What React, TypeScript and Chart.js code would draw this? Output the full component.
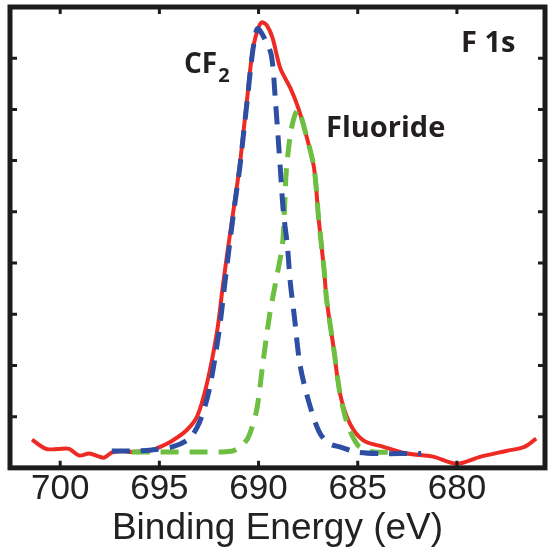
import React, { useEffect, useRef } from "react";
import { Chart, registerables } from "chart.js";

Chart.register(...registerables);

// F 1s spectrum: measured envelope (binding energy eV, intensity a.u.)
const envelopeEnergy = [
  701.42, 700.71, 700.1, 699.55, 699.04, 698.54, 698.03, 697.78, 697.38, 696.87,
  696.37, 695.36, 694.9, 694.35, 693.64, 693.1, 692.6, 692.1, 691.8, 691.5,
  691.2, 690.95, 690.75, 690.55, 690.4, 690.25, 690.05, 689.85, 689.6,
  689.3, 688.9, 688.4, 688.0, 687.6, 687.2, 686.97, 686.7, 686.57, 686.2,
  685.9, 685.4, 684.7, 683.7, 682.5, 681.2, 680.0, 678.8, 677.5, 676.6, 676.0,
];
const envelopeIntensity = [
  0.55, 0.37, 0.37, 0.37, 0.24, 0.28, 0.22, 0.2, 0.3, 0.33,
  0.31, 0.35, 0.42, 0.53, 0.73, 1.0, 1.65, 2.64, 3.55, 4.4,
  5.2, 5.9, 6.6, 7.3, 7.85, 8.25, 8.55, 8.7, 8.65,
  8.4, 7.8, 7.42, 7.03, 6.5, 5.85, 4.86, 3.88, 3.29, 2.3,
  1.46, 0.87, 0.53, 0.41, 0.28, 0.22, 0.08, 0.22, 0.33, 0.41, 0.57,
];

// CF2 component
const cf2Energy = [
  697.4, 696.4, 695.4, 694.35, 693.5, 693.0, 692.5, 692.0, 691.7, 691.45,
  691.2, 690.95, 690.75, 690.55, 690.4, 690.25, 690.05, 689.65, 689.35, 689.15,
  688.9, 688.75, 688.55, 688.4, 688.2, 687.9, 687.4, 686.9, 686.4, 685.9,
  685.05, 683.85, 681.8,
];
const cf2Intensity = [
  0.33, 0.33, 0.35, 0.41, 0.57, 0.87, 1.5, 2.64, 3.6, 4.4,
  5.15, 5.85, 6.55, 7.25, 7.8, 8.25, 8.58, 8.35, 8.05, 7.17,
  5.83, 5.0, 4.35, 3.62, 2.97, 1.99, 1.2, 0.67, 0.47, 0.41,
  0.31, 0.28, 0.28,
];

// Fluoride component
const fluorideEnergy = [
  696.4, 695.0, 693.0, 692.0, 691.3, 690.8, 690.5, 690.1, 689.8, 689.45,
  689.15, 688.8, 688.7, 688.6, 688.4, 688.2, 688.0, 687.6, 687.2, 686.97,
  686.7, 686.57, 686.2, 685.9, 685.6, 685.4, 685.1, 684.9, 684.2, 683.2,
];
const fluorideIntensity = [
  0.31, 0.31, 0.31, 0.31, 0.33, 0.45, 0.61, 1.12, 1.99, 2.97,
  3.6, 4.35, 5.0, 5.8, 6.5, 6.85, 7.0, 6.5, 5.85, 4.86,
  3.88, 3.29, 2.3, 1.46, 0.95, 0.73, 0.5, 0.41, 0.31, 0.31,
];

const xTicks = [700, 695, 690, 685, 680];
const yTicks = [1, 2, 3, 4, 5, 6, 7, 8];

const pairs = (xs: number[], ys: number[]) => xs.map((x, i) => ({ x, y: ys[i] }));

const INK = "#1c1c1c";

const framePlugin = {
  id: "frame",
  afterDatasetsDraw(chart: any) {
    const { ctx, chartArea: a, scales } = chart;
    const xs = scales.x;
    const ys = scales.y;
    ctx.save();
    ctx.strokeStyle = INK;
    ctx.lineWidth = 3;
    ctx.beginPath();
    for (const v of xTicks) {
      const px = xs.getPixelForValue(v);
      ctx.moveTo(px, a.bottom);
      ctx.lineTo(px, a.bottom - 7);
      ctx.moveTo(px, a.top);
      ctx.lineTo(px, a.top + 7);
    }
    for (const v of yTicks) {
      const py = ys.getPixelForValue(v);
      ctx.moveTo(a.left, py);
      ctx.lineTo(a.left + 7, py);
      ctx.moveTo(a.right, py);
      ctx.lineTo(a.right - 7, py);
    }
    ctx.stroke();
    ctx.lineWidth = 5;
    ctx.strokeRect(a.left, a.top, a.right - a.left, a.bottom - a.top);

    // peak labels
    ctx.fillStyle = "#231f20";
    ctx.textBaseline = "alphabetic";
    ctx.textAlign = "left";
    ctx.font = "bold 28px 'Open Sans'";
    ctx.fillText("CF", 184, 73);
    const cfw = ctx.measureText("CF").width;
    ctx.font = "bold 20px 'Open Sans'";
    ctx.fillText("2", 184 + cfw + 1, 82);
    ctx.font = "bold 29px 'Open Sans'";
    ctx.fillText("Fluoride", 326, 137);
    ctx.fillText("F 1s", 461, 52);
    ctx.restore();
  },
};

export default function App() {
  const ref = useRef<HTMLCanvasElement | null>(null);

  useEffect(() => {
    if (!ref.current) return;
    const dashed = {
      showLine: true,
      pointRadius: 0,
      borderWidth: 5,
      borderDash: [18, 11],
      tension: 0.3,
      fill: false,
      order: 1,
    };
    const chart = new Chart(ref.current, {
      type: "scatter",
      data: {
        datasets: [
          {
            label: "Envelope",
            data: pairs(envelopeEnergy, envelopeIntensity),
            showLine: true,
            pointRadius: 0,
            borderWidth: 4,
            borderColor: "#ee2a24",
            tension: 0.3,
            fill: false,
            order: 2,
          },
          {
            label: "CF2",
            data: pairs(cf2Energy, cf2Intensity),
            borderColor: "#2d4ea3",
            ...dashed,
          },
          {
            label: "Fluoride",
            data: pairs(fluorideEnergy, fluorideIntensity),
            borderColor: "#6dbf42",
            ...dashed,
          },
        ],
      },
      options: {
        animation: false,
        responsive: false,
        maintainAspectRatio: false,
        layout: { padding: { left: 10, right: 4, top: 7, bottom: 7 } },
        plugins: {
          legend: { display: false },
          tooltip: { enabled: false },
        },
        scales: {
          x: {
            type: "linear",
            reverse: true,
            min: 675.56,
            max: 702.53,
            grid: { display: false, drawTicks: false },
            border: { display: false },
            afterBuildTicks: (scale: any) => {
              scale.ticks = xTicks.map((value) => ({ value }));
            },
            ticks: {
              color: "#222",
              padding: 4,
              font: { family: "'Liberation Sans', Arial", size: 35, lineHeight: 1 },
              callback: (v: any) => String(v),
              maxRotation: 0,
            },
            title: {
              display: true,
              text: "Binding Energy (eV)",
              color: "#222",
              font: { family: "'Liberation Sans', Arial", size: 37, lineHeight: 0.95 },
              padding: { top: 0, bottom: 0 },
            },
          },
          y: {
            display: false,
            min: 0,
            max: 9,
          },
        },
      },
      plugins: [framePlugin],
    });
    return () => chart.destroy();
  }, []);

  return (
    <div style={{ position: "absolute", left: 0, top: 0, width: 549, height: 553, background: "#fff" }}>
      <canvas ref={ref} width={549} height={553} />
    </div>
  );
}
